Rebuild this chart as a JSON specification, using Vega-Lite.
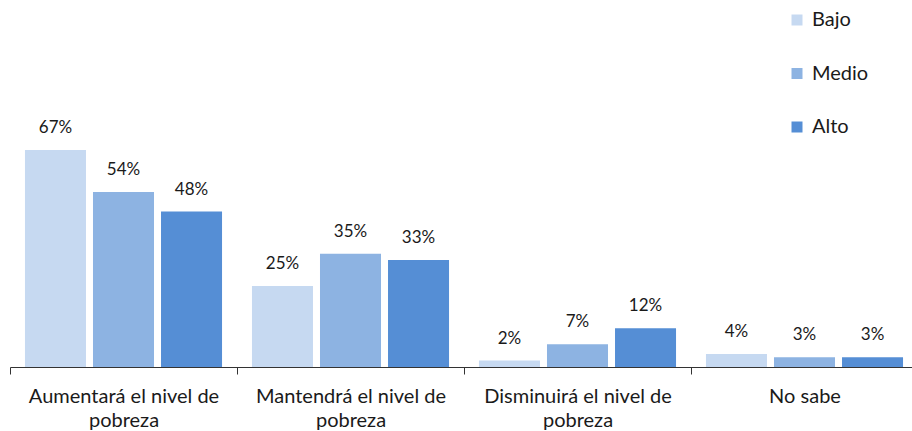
{
  "$schema": "https://vega.github.io/schema/vega-lite/v6.json",
  "width": 908,
  "height": 367,
  "autosize": "none",
  "padding": {"left": 10, "top": 0, "right": 0, "bottom": 64},
  "background": "white",
  "config": {"view": {"stroke": null}, "font": "Lato"},
  "data": {"values": [
    {"cat": "Aumentará el nivel de pobreza", "nivel": "Bajo", "v": 0.67},
    {"cat": "Aumentará el nivel de pobreza", "nivel": "Medio", "v": 0.54},
    {"cat": "Aumentará el nivel de pobreza", "nivel": "Alto", "v": 0.48},
    {"cat": "Mantendrá el nivel de pobreza", "nivel": "Bajo", "v": 0.25},
    {"cat": "Mantendrá el nivel de pobreza", "nivel": "Medio", "v": 0.35},
    {"cat": "Mantendrá el nivel de pobreza", "nivel": "Alto", "v": 0.33},
    {"cat": "Disminuirá el nivel de pobreza", "nivel": "Bajo", "v": 0.02},
    {"cat": "Disminuirá el nivel de pobreza", "nivel": "Medio", "v": 0.07},
    {"cat": "Disminuirá el nivel de pobreza", "nivel": "Alto", "v": 0.12},
    {"cat": "No sabe", "nivel": "Bajo", "v": 0.04},
    {"cat": "No sabe", "nivel": "Medio", "v": 0.03},
    {"cat": "No sabe", "nivel": "Alto", "v": 0.03}
  ]},
  "encoding": {
    "x": {
      "field": "cat", "type": "nominal", "sort": null,
      "scale": {"paddingInner": 0, "paddingOuter": 0},
      "axis": {
        "title": null, "labelAngle": 0, "domainColor": "#333", "tickColor": "#333",
        "tickBand": "extent", "tickSize": 7, "labelPadding": 12,
        "labelFont": "Lato", "labelFontSize": 20, "labelColor": "#1a1a1a",
        "labelLineHeight": 24, "labelLimit": 300, "labelBaseline": "top",
        "labelExpr": "split(replace(datum.label, ' pobreza', '|pobreza'), '|')"
      }
    },
    "xOffset": {
      "field": "nivel", "type": "nominal", "sort": ["Bajo", "Medio", "Alto"],
      "scale": {"paddingInner": 0.103, "paddingOuter": 0.22}
    },
    "y": {
      "field": "v", "type": "quantitative",
      "scale": {"domain": [0, 1.133], "nice": false, "zero": true},
      "axis": null
    }
  },
  "layer": [
    {
      "mark": {"type": "bar"},
      "encoding": {
        "color": {
          "field": "nivel", "type": "nominal", "sort": ["Bajo", "Medio", "Alto"],
          "scale": {"domain": ["Bajo", "Medio", "Alto"], "range": ["#C6D9F1", "#8DB3E2", "#558ED5"]},
          "legend": {
            "title": null, "orient": "none", "legendX": 777, "legendY": 10,
            "direction": "vertical", "symbolType": "square", "symbolSize": 121,
            "symbolStrokeWidth": 0, "labelFont": "Lato", "labelFontSize": 20,
            "labelColor": "#1a1a1a", "rowPadding": 33.5, "labelOffset": 5
          }
        }
      }
    },
    {
      "mark": {"type": "text", "baseline": "alphabetic", "dy": -17, "fontSize": 17, "font": "Lato", "color": "#1a1a1a"},
      "encoding": {
        "text": {"field": "v", "type": "quantitative", "format": ".0%"}
      }
    }
  ]
}
